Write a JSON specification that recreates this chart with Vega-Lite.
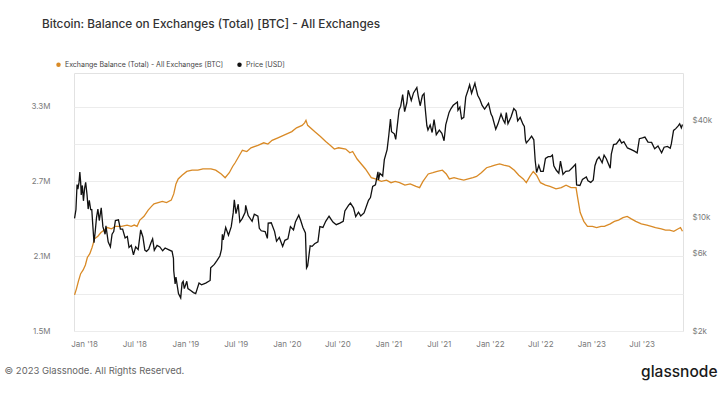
{
  "$schema": "https://vega.github.io/schema/vega-lite/v6.json",
  "width": 609,
  "height": 258,
  "autosize": {"type": "none"},
  "padding": {"top": 73, "left": 74, "right": 37, "bottom": 75},
  "background": "#ffffff",
  "config": {
    "font": "Inter",
    "view": {"stroke": "#e2e2e2"},
    "axis": {"labelFont": "Inter", "titleFont": "Inter"},
    "legend": {"labelFont": "Inter"}
  },
  "title": {
    "text": "Bitcoin: Balance on Exchanges (Total) [BTC] - All Exchanges",
    "anchor": "start",
    "frame": "group",
    "dx": -32,
    "fontSize": 11.8,
    "fontWeight": 500,
    "color": "#333333",
    "offset": 30
  },
  "datasets": {
    "balance": [
      {"date": "2017-11-28", "v": 1790000}, {"date": "2017-12-05", "v": 1840000}, {"date": "2017-12-12", "v": 1900000},
      {"date": "2017-12-20", "v": 1960000}, {"date": "2017-12-29", "v": 1990000}, {"date": "2018-01-06", "v": 2030000},
      {"date": "2018-01-13", "v": 2090000}, {"date": "2018-01-22", "v": 2120000}, {"date": "2018-01-30", "v": 2170000},
      {"date": "2018-02-08", "v": 2240000}, {"date": "2018-02-20", "v": 2260000}, {"date": "2018-03-03", "v": 2290000},
      {"date": "2018-03-15", "v": 2310000}, {"date": "2018-03-26", "v": 2330000}, {"date": "2018-04-10", "v": 2320000},
      {"date": "2018-04-25", "v": 2340000}, {"date": "2018-05-16", "v": 2340000}, {"date": "2018-06-05", "v": 2350000},
      {"date": "2018-06-20", "v": 2340000}, {"date": "2018-07-01", "v": 2350000}, {"date": "2018-07-11", "v": 2340000},
      {"date": "2018-07-21", "v": 2390000}, {"date": "2018-08-05", "v": 2420000}, {"date": "2018-08-20", "v": 2470000},
      {"date": "2018-09-01", "v": 2500000}, {"date": "2018-09-10", "v": 2520000}, {"date": "2018-09-25", "v": 2530000},
      {"date": "2018-10-10", "v": 2540000}, {"date": "2018-10-25", "v": 2530000}, {"date": "2018-11-11", "v": 2550000},
      {"date": "2018-11-20", "v": 2600000}, {"date": "2018-11-28", "v": 2680000}, {"date": "2018-12-06", "v": 2720000},
      {"date": "2018-12-20", "v": 2750000}, {"date": "2019-01-06", "v": 2780000}, {"date": "2019-01-25", "v": 2790000},
      {"date": "2019-02-15", "v": 2790000}, {"date": "2019-03-05", "v": 2800000}, {"date": "2019-04-03", "v": 2800000},
      {"date": "2019-04-20", "v": 2790000}, {"date": "2019-05-10", "v": 2760000}, {"date": "2019-05-24", "v": 2730000},
      {"date": "2019-06-08", "v": 2770000}, {"date": "2019-06-20", "v": 2820000}, {"date": "2019-06-29", "v": 2850000},
      {"date": "2019-07-12", "v": 2900000}, {"date": "2019-07-25", "v": 2950000}, {"date": "2019-08-10", "v": 2940000},
      {"date": "2019-08-25", "v": 2970000}, {"date": "2019-09-19", "v": 2990000}, {"date": "2019-10-10", "v": 3010000},
      {"date": "2019-10-25", "v": 3000000}, {"date": "2019-11-09", "v": 3030000}, {"date": "2019-11-30", "v": 3050000},
      {"date": "2019-12-20", "v": 3070000}, {"date": "2020-01-19", "v": 3100000}, {"date": "2020-02-05", "v": 3130000},
      {"date": "2020-02-25", "v": 3150000}, {"date": "2020-03-05", "v": 3170000}, {"date": "2020-03-10", "v": 3190000},
      {"date": "2020-03-16", "v": 3150000}, {"date": "2020-04-10", "v": 3100000}, {"date": "2020-05-01", "v": 3060000},
      {"date": "2020-05-20", "v": 3020000}, {"date": "2020-06-05", "v": 2990000}, {"date": "2020-06-20", "v": 2960000},
      {"date": "2020-07-05", "v": 2970000}, {"date": "2020-07-31", "v": 2960000}, {"date": "2020-08-15", "v": 2930000},
      {"date": "2020-08-25", "v": 2940000}, {"date": "2020-09-10", "v": 2880000}, {"date": "2020-09-25", "v": 2840000},
      {"date": "2020-10-10", "v": 2800000}, {"date": "2020-10-31", "v": 2730000}, {"date": "2020-11-15", "v": 2720000},
      {"date": "2020-12-06", "v": 2700000}, {"date": "2020-12-25", "v": 2710000}, {"date": "2021-01-10", "v": 2690000},
      {"date": "2021-01-25", "v": 2700000}, {"date": "2021-02-10", "v": 2690000}, {"date": "2021-03-01", "v": 2670000},
      {"date": "2021-03-20", "v": 2680000}, {"date": "2021-04-10", "v": 2660000}, {"date": "2021-04-23", "v": 2650000},
      {"date": "2021-05-05", "v": 2700000}, {"date": "2021-05-24", "v": 2760000}, {"date": "2021-06-10", "v": 2770000},
      {"date": "2021-06-25", "v": 2780000}, {"date": "2021-07-14", "v": 2790000}, {"date": "2021-07-28", "v": 2760000},
      {"date": "2021-08-08", "v": 2720000}, {"date": "2021-08-25", "v": 2730000}, {"date": "2021-09-10", "v": 2720000},
      {"date": "2021-09-29", "v": 2710000}, {"date": "2021-10-15", "v": 2720000}, {"date": "2021-11-01", "v": 2730000},
      {"date": "2021-11-14", "v": 2740000}, {"date": "2021-12-01", "v": 2770000}, {"date": "2021-12-20", "v": 2810000},
      {"date": "2022-01-05", "v": 2820000}, {"date": "2022-01-19", "v": 2830000}, {"date": "2022-02-05", "v": 2840000},
      {"date": "2022-02-20", "v": 2830000}, {"date": "2022-03-12", "v": 2820000}, {"date": "2022-03-30", "v": 2790000},
      {"date": "2022-04-15", "v": 2750000}, {"date": "2022-05-01", "v": 2720000}, {"date": "2022-05-12", "v": 2690000},
      {"date": "2022-05-25", "v": 2740000}, {"date": "2022-06-06", "v": 2780000}, {"date": "2022-06-18", "v": 2750000},
      {"date": "2022-07-02", "v": 2690000}, {"date": "2022-07-20", "v": 2670000}, {"date": "2022-08-05", "v": 2660000},
      {"date": "2022-08-27", "v": 2640000}, {"date": "2022-09-15", "v": 2650000}, {"date": "2022-10-02", "v": 2670000},
      {"date": "2022-10-20", "v": 2650000}, {"date": "2022-11-07", "v": 2650000}, {"date": "2022-11-12", "v": 2580000},
      {"date": "2022-11-22", "v": 2450000}, {"date": "2022-12-05", "v": 2380000}, {"date": "2022-12-18", "v": 2340000},
      {"date": "2023-01-05", "v": 2340000}, {"date": "2023-01-20", "v": 2330000}, {"date": "2023-02-05", "v": 2340000},
      {"date": "2023-02-17", "v": 2340000}, {"date": "2023-03-10", "v": 2360000}, {"date": "2023-03-25", "v": 2380000},
      {"date": "2023-04-09", "v": 2390000}, {"date": "2023-04-25", "v": 2410000}, {"date": "2023-05-10", "v": 2420000},
      {"date": "2023-05-25", "v": 2400000}, {"date": "2023-06-10", "v": 2380000}, {"date": "2023-06-30", "v": 2360000},
      {"date": "2023-07-20", "v": 2350000}, {"date": "2023-08-05", "v": 2340000}, {"date": "2023-08-20", "v": 2330000},
      {"date": "2023-09-10", "v": 2320000}, {"date": "2023-09-25", "v": 2310000}, {"date": "2023-10-10", "v": 2310000},
      {"date": "2023-10-25", "v": 2300000}, {"date": "2023-11-10", "v": 2320000}, {"date": "2023-11-18", "v": 2330000},
      {"date": "2023-11-25", "v": 2300000}
    ],
    "price": [
      {"date": "2017-11-28", "v": 9900}, {"date": "2017-12-03", "v": 11200}, {"date": "2017-12-07", "v": 16000},
      {"date": "2017-12-10", "v": 15000}, {"date": "2017-12-14", "v": 16500}, {"date": "2017-12-17", "v": 19100},
      {"date": "2017-12-20", "v": 16500}, {"date": "2017-12-22", "v": 13800}, {"date": "2017-12-26", "v": 15800},
      {"date": "2017-12-30", "v": 12700}, {"date": "2018-01-03", "v": 15100}, {"date": "2018-01-07", "v": 16500},
      {"date": "2018-01-12", "v": 13800}, {"date": "2018-01-16", "v": 11300}, {"date": "2018-01-20", "v": 12800},
      {"date": "2018-01-25", "v": 11200}, {"date": "2018-01-29", "v": 11200}, {"date": "2018-02-02", "v": 8800},
      {"date": "2018-02-06", "v": 7000}, {"date": "2018-02-10", "v": 8100}, {"date": "2018-02-15", "v": 10000},
      {"date": "2018-02-20", "v": 11300}, {"date": "2018-02-25", "v": 9600}, {"date": "2018-03-04", "v": 11500},
      {"date": "2018-03-10", "v": 8800}, {"date": "2018-03-18", "v": 7900}, {"date": "2018-03-21", "v": 8900},
      {"date": "2018-03-29", "v": 7100}, {"date": "2018-04-06", "v": 6600}, {"date": "2018-04-12", "v": 7900},
      {"date": "2018-04-18", "v": 8200}, {"date": "2018-04-24", "v": 9600}, {"date": "2018-05-05", "v": 9700},
      {"date": "2018-05-12", "v": 8500}, {"date": "2018-05-20", "v": 8500}, {"date": "2018-05-29", "v": 7500},
      {"date": "2018-06-06", "v": 7650}, {"date": "2018-06-12", "v": 6550}, {"date": "2018-06-20", "v": 6750},
      {"date": "2018-06-28", "v": 5900}, {"date": "2018-07-06", "v": 6600}, {"date": "2018-07-15", "v": 6350},
      {"date": "2018-07-24", "v": 8400}, {"date": "2018-08-01", "v": 7600}, {"date": "2018-08-08", "v": 6300},
      {"date": "2018-08-14", "v": 6200}, {"date": "2018-08-22", "v": 6400}, {"date": "2018-08-30", "v": 7000},
      {"date": "2018-09-05", "v": 7400}, {"date": "2018-09-11", "v": 6300}, {"date": "2018-09-21", "v": 6750},
      {"date": "2018-10-01", "v": 6600}, {"date": "2018-10-11", "v": 6250}, {"date": "2018-10-20", "v": 6500},
      {"date": "2018-11-01", "v": 6350}, {"date": "2018-11-14", "v": 6200}, {"date": "2018-11-19", "v": 5600},
      {"date": "2018-11-20", "v": 4700}, {"date": "2018-11-25", "v": 3900}, {"date": "2018-11-28", "v": 4300},
      {"date": "2018-12-07", "v": 3400}, {"date": "2018-12-15", "v": 3200}, {"date": "2018-12-20", "v": 3950},
      {"date": "2018-12-24", "v": 4050}, {"date": "2018-12-28", "v": 3650}, {"date": "2019-01-06", "v": 4050},
      {"date": "2019-01-10", "v": 3650}, {"date": "2019-01-20", "v": 3550}, {"date": "2019-01-30", "v": 3450},
      {"date": "2019-02-07", "v": 3400}, {"date": "2019-02-19", "v": 3950}, {"date": "2019-02-28", "v": 3850},
      {"date": "2019-03-15", "v": 3950}, {"date": "2019-03-31", "v": 4100}, {"date": "2019-04-02", "v": 4900},
      {"date": "2019-04-15", "v": 5150}, {"date": "2019-04-25", "v": 5450}, {"date": "2019-05-05", "v": 5800},
      {"date": "2019-05-11", "v": 6400}, {"date": "2019-05-14", "v": 7900}, {"date": "2019-05-17", "v": 7300},
      {"date": "2019-05-26", "v": 8700}, {"date": "2019-06-05", "v": 7800}, {"date": "2019-06-15", "v": 8800},
      {"date": "2019-06-22", "v": 10700}, {"date": "2019-06-26", "v": 12900}, {"date": "2019-07-02", "v": 10600},
      {"date": "2019-07-10", "v": 12100}, {"date": "2019-07-16", "v": 9400}, {"date": "2019-07-25", "v": 9900},
      {"date": "2019-08-04", "v": 10800}, {"date": "2019-08-06", "v": 11900}, {"date": "2019-08-15", "v": 10300},
      {"date": "2019-08-29", "v": 9500}, {"date": "2019-09-06", "v": 10500}, {"date": "2019-09-19", "v": 10200},
      {"date": "2019-09-24", "v": 8600}, {"date": "2019-10-01", "v": 8300}, {"date": "2019-10-15", "v": 8200},
      {"date": "2019-10-23", "v": 7450}, {"date": "2019-10-26", "v": 9250}, {"date": "2019-11-06", "v": 9300},
      {"date": "2019-11-18", "v": 8200}, {"date": "2019-11-25", "v": 7150}, {"date": "2019-12-05", "v": 7550},
      {"date": "2019-12-17", "v": 6650}, {"date": "2019-12-25", "v": 7250}, {"date": "2020-01-05", "v": 7400},
      {"date": "2020-01-14", "v": 8800}, {"date": "2020-01-25", "v": 8400}, {"date": "2020-02-01", "v": 9400},
      {"date": "2020-02-13", "v": 10350}, {"date": "2020-02-20", "v": 9600}, {"date": "2020-02-28", "v": 8700},
      {"date": "2020-03-08", "v": 8050}, {"date": "2020-03-12", "v": 4900}, {"date": "2020-03-16", "v": 5050},
      {"date": "2020-03-25", "v": 6700}, {"date": "2020-04-01", "v": 6650}, {"date": "2020-04-10", "v": 6900},
      {"date": "2020-04-22", "v": 7100}, {"date": "2020-04-29", "v": 8800}, {"date": "2020-05-10", "v": 8700},
      {"date": "2020-05-20", "v": 9500}, {"date": "2020-06-01", "v": 10200}, {"date": "2020-06-15", "v": 9400},
      {"date": "2020-06-27", "v": 9050}, {"date": "2020-07-10", "v": 9250}, {"date": "2020-07-22", "v": 9500},
      {"date": "2020-07-28", "v": 11000}, {"date": "2020-08-10", "v": 11900}, {"date": "2020-08-17", "v": 12300},
      {"date": "2020-08-28", "v": 11500}, {"date": "2020-09-05", "v": 10150}, {"date": "2020-09-15", "v": 10800},
      {"date": "2020-09-23", "v": 10250}, {"date": "2020-10-05", "v": 10700}, {"date": "2020-10-21", "v": 12800},
      {"date": "2020-10-28", "v": 13300}, {"date": "2020-11-05", "v": 15600}, {"date": "2020-11-15", "v": 15950},
      {"date": "2020-11-24", "v": 19150}, {"date": "2020-11-26", "v": 17100}, {"date": "2020-12-01", "v": 18750},
      {"date": "2020-12-11", "v": 18050}, {"date": "2020-12-17", "v": 22800}, {"date": "2020-12-27", "v": 26300},
      {"date": "2021-01-02", "v": 32100}, {"date": "2021-01-08", "v": 40600}, {"date": "2021-01-12", "v": 33900},
      {"date": "2021-01-22", "v": 32900}, {"date": "2021-01-27", "v": 30400}, {"date": "2021-02-08", "v": 46200},
      {"date": "2021-02-14", "v": 48700}, {"date": "2021-02-21", "v": 57400}, {"date": "2021-02-28", "v": 45100},
      {"date": "2021-03-08", "v": 51100}, {"date": "2021-03-13", "v": 61100}, {"date": "2021-03-24", "v": 52800},
      {"date": "2021-04-01", "v": 58800}, {"date": "2021-04-13", "v": 63500}, {"date": "2021-04-18", "v": 56200},
      {"date": "2021-04-25", "v": 49000}, {"date": "2021-05-03", "v": 56600}, {"date": "2021-05-09", "v": 58200},
      {"date": "2021-05-12", "v": 49500}, {"date": "2021-05-19", "v": 37000}, {"date": "2021-05-23", "v": 34700},
      {"date": "2021-05-31", "v": 37300}, {"date": "2021-06-07", "v": 33500}, {"date": "2021-06-14", "v": 40200},
      {"date": "2021-06-22", "v": 32500}, {"date": "2021-07-03", "v": 34700}, {"date": "2021-07-12", "v": 33100},
      {"date": "2021-07-20", "v": 29800}, {"date": "2021-07-26", "v": 37300}, {"date": "2021-08-07", "v": 44600},
      {"date": "2021-08-14", "v": 47100}, {"date": "2021-08-22", "v": 49300}, {"date": "2021-09-06", "v": 51700},
      {"date": "2021-09-08", "v": 46000}, {"date": "2021-09-15", "v": 48100}, {"date": "2021-09-21", "v": 40700},
      {"date": "2021-09-29", "v": 41600}, {"date": "2021-10-06", "v": 55400}, {"date": "2021-10-15", "v": 61700},
      {"date": "2021-10-20", "v": 66000}, {"date": "2021-10-27", "v": 58500}, {"date": "2021-11-08", "v": 67500},
      {"date": "2021-11-10", "v": 64900}, {"date": "2021-11-18", "v": 56900}, {"date": "2021-11-26", "v": 53600},
      {"date": "2021-12-04", "v": 49200}, {"date": "2021-12-13", "v": 46700}, {"date": "2021-12-27", "v": 50700},
      {"date": "2022-01-05", "v": 43500}, {"date": "2022-01-10", "v": 41900}, {"date": "2022-01-22", "v": 35100},
      {"date": "2022-01-30", "v": 37900}, {"date": "2022-02-10", "v": 43600}, {"date": "2022-02-18", "v": 40000},
      {"date": "2022-02-24", "v": 38300}, {"date": "2022-03-01", "v": 44400}, {"date": "2022-03-07", "v": 38000},
      {"date": "2022-03-18", "v": 41800}, {"date": "2022-03-28", "v": 47100}, {"date": "2022-04-05", "v": 45500},
      {"date": "2022-04-11", "v": 39500}, {"date": "2022-04-20", "v": 41500}, {"date": "2022-04-30", "v": 37700},
      {"date": "2022-05-05", "v": 36500}, {"date": "2022-05-09", "v": 30100}, {"date": "2022-05-12", "v": 28900},
      {"date": "2022-05-22", "v": 30300}, {"date": "2022-05-31", "v": 31800}, {"date": "2022-06-08", "v": 30200},
      {"date": "2022-06-13", "v": 22500}, {"date": "2022-06-18", "v": 19000}, {"date": "2022-06-26", "v": 21000},
      {"date": "2022-07-03", "v": 19300}, {"date": "2022-07-12", "v": 19300}, {"date": "2022-07-20", "v": 23200},
      {"date": "2022-07-30", "v": 23800}, {"date": "2022-08-08", "v": 23800}, {"date": "2022-08-14", "v": 24300},
      {"date": "2022-08-19", "v": 20900}, {"date": "2022-08-28", "v": 19600}, {"date": "2022-09-06", "v": 18800},
      {"date": "2022-09-12", "v": 22300}, {"date": "2022-09-21", "v": 18500}, {"date": "2022-10-01", "v": 19300},
      {"date": "2022-10-13", "v": 19400}, {"date": "2022-10-28", "v": 20600}, {"date": "2022-11-05", "v": 21300},
      {"date": "2022-11-09", "v": 15900}, {"date": "2022-11-21", "v": 15800}, {"date": "2022-11-30", "v": 17200},
      {"date": "2022-12-14", "v": 17800}, {"date": "2022-12-20", "v": 16900}, {"date": "2022-12-30", "v": 16500},
      {"date": "2023-01-08", "v": 17100}, {"date": "2023-01-14", "v": 20900}, {"date": "2023-01-21", "v": 22700},
      {"date": "2023-01-29", "v": 23700}, {"date": "2023-02-09", "v": 21800}, {"date": "2023-02-16", "v": 24300},
      {"date": "2023-02-24", "v": 23100}, {"date": "2023-03-10", "v": 20200}, {"date": "2023-03-14", "v": 24700},
      {"date": "2023-03-22", "v": 28200}, {"date": "2023-04-01", "v": 28500}, {"date": "2023-04-13", "v": 30400},
      {"date": "2023-04-20", "v": 28800}, {"date": "2023-04-28", "v": 29400}, {"date": "2023-05-11", "v": 26900},
      {"date": "2023-05-25", "v": 26300}, {"date": "2023-06-05", "v": 25700}, {"date": "2023-06-15", "v": 25100},
      {"date": "2023-06-23", "v": 30700}, {"date": "2023-07-04", "v": 31000}, {"date": "2023-07-13", "v": 31400},
      {"date": "2023-07-24", "v": 29200}, {"date": "2023-08-06", "v": 29100}, {"date": "2023-08-17", "v": 26600},
      {"date": "2023-08-29", "v": 27700}, {"date": "2023-09-11", "v": 25100}, {"date": "2023-09-20", "v": 27200},
      {"date": "2023-10-02", "v": 27500}, {"date": "2023-10-12", "v": 26800}, {"date": "2023-10-16", "v": 28500},
      {"date": "2023-10-24", "v": 34500}, {"date": "2023-11-01", "v": 35400}, {"date": "2023-11-09", "v": 36700},
      {"date": "2023-11-15", "v": 37900}, {"date": "2023-11-21", "v": 35800}, {"date": "2023-11-25", "v": 37500}
    ]
  },
  "layer": [
    {
      "data": {"name": "balance"},
      "mark": {"type": "line", "strokeWidth": 1.3, "color": "#d98a26"},
      "encoding": {
        "x": {
          "field": "date", "type": "temporal",
          "scale": {"domain": ["2017-11-26", "2023-11-27"], "nice": false},
          "axis": {
            "orient": "bottom",
            "format": "%b '%y", "tickCount": {"interval": "month", "step": 6},
            "grid": false, "domain": false, "ticks": false,
            "labelFontSize": 8, "labelColor": "#7a7a7a", "labelPadding": 9,
            "title": "© 2023 Glassnode. All Rights Reserved.",
            "titleAnchor": "start", "titleAlign": "left", "titleX": -70,
            "titleFontSize": 9.5, "titleFontWeight": "normal", "titleColor": "#666666", "titlePadding": 17
          }
        },
        "y": {
          "field": "v", "type": "quantitative",
          "scale": {"domain": [1500000, 3570000], "nice": false, "zero": false},
          "axis": {
            "orient": "left", "title": null,
            "values": [1500000, 1800000, 2100000, 2400000, 2700000, 3000000, 3300000],
            "labelExpr": "(datum.value - 1500000) % 600000 == 0 ? format(datum.value / 1000000, '.1f') + 'M' : ''",
            "grid": true, "gridColor": "#ececec", "gridWidth": 1,
            "domain": false, "ticks": false,
            "labelFontSize": 8, "labelColor": "#7a7a7a", "labelPadding": 24
          }
        },
        "color": {
          "datum": "Exchange Balance (Total) - All Exchanges [BTC]",
          "type": "nominal",
          "scale": {
            "domain": ["Exchange Balance (Total) - All Exchanges [BTC]", "Price [USD]"],
            "range": ["#d98a26", "#111111"]
          },
          "legend": {
            "title": null, "orient": "none", "legendX": -19, "legendY": -12, "direction": "horizontal",
            "symbolType": "circle", "symbolSize": 20, "symbolStrokeWidth": 0,
            "labelFontSize": 7, "labelColor": "#444444", "labelLimit": 400, "labelOffset": 3,
            "columnPadding": 12,
            "encode": {"symbols": {"update": {"fill": {"scale": "color", "field": "value"}, "fillOpacity": {"value": 1}}}}
          }
        }
      }
    },
    {
      "data": {"name": "price"},
      "mark": {"type": "line", "strokeWidth": 1.3, "color": "#111111"},
      "encoding": {
        "x": {
          "field": "date", "type": "temporal",
          "axis": {
            "orient": "bottom",
            "labels": false, "ticks": false, "domain": false, "grid": false,
            "title": "glassnode", "titleAnchor": "end", "titleAlign": "right",
            "titleFontSize": 15.5, "titleFontWeight": 500, "titleColor": "#1a1a1a",
            "titlePadding": 33, "titleX": 643
          }
        },
        "y": {
          "field": "v", "type": "quantitative",
          "scale": {"type": "log", "domain": [2000, 78000], "nice": false},
          "axis": {
            "orient": "right", "title": null,
            "values": [2000, 6000, 10000, 40000],
            "labelExpr": "'$' + (datum.value / 1000) + 'k'",
            "grid": false, "domain": false, "ticks": false,
            "labelFontSize": 8, "labelColor": "#7a7a7a", "labelPadding": 9
          }
        },
        "color": {"datum": "Price [USD]", "type": "nominal"}
      }
    }
  ],
  "resolve": {"scale": {"y": "independent"}, "axis": {"x": "independent"}}
}
